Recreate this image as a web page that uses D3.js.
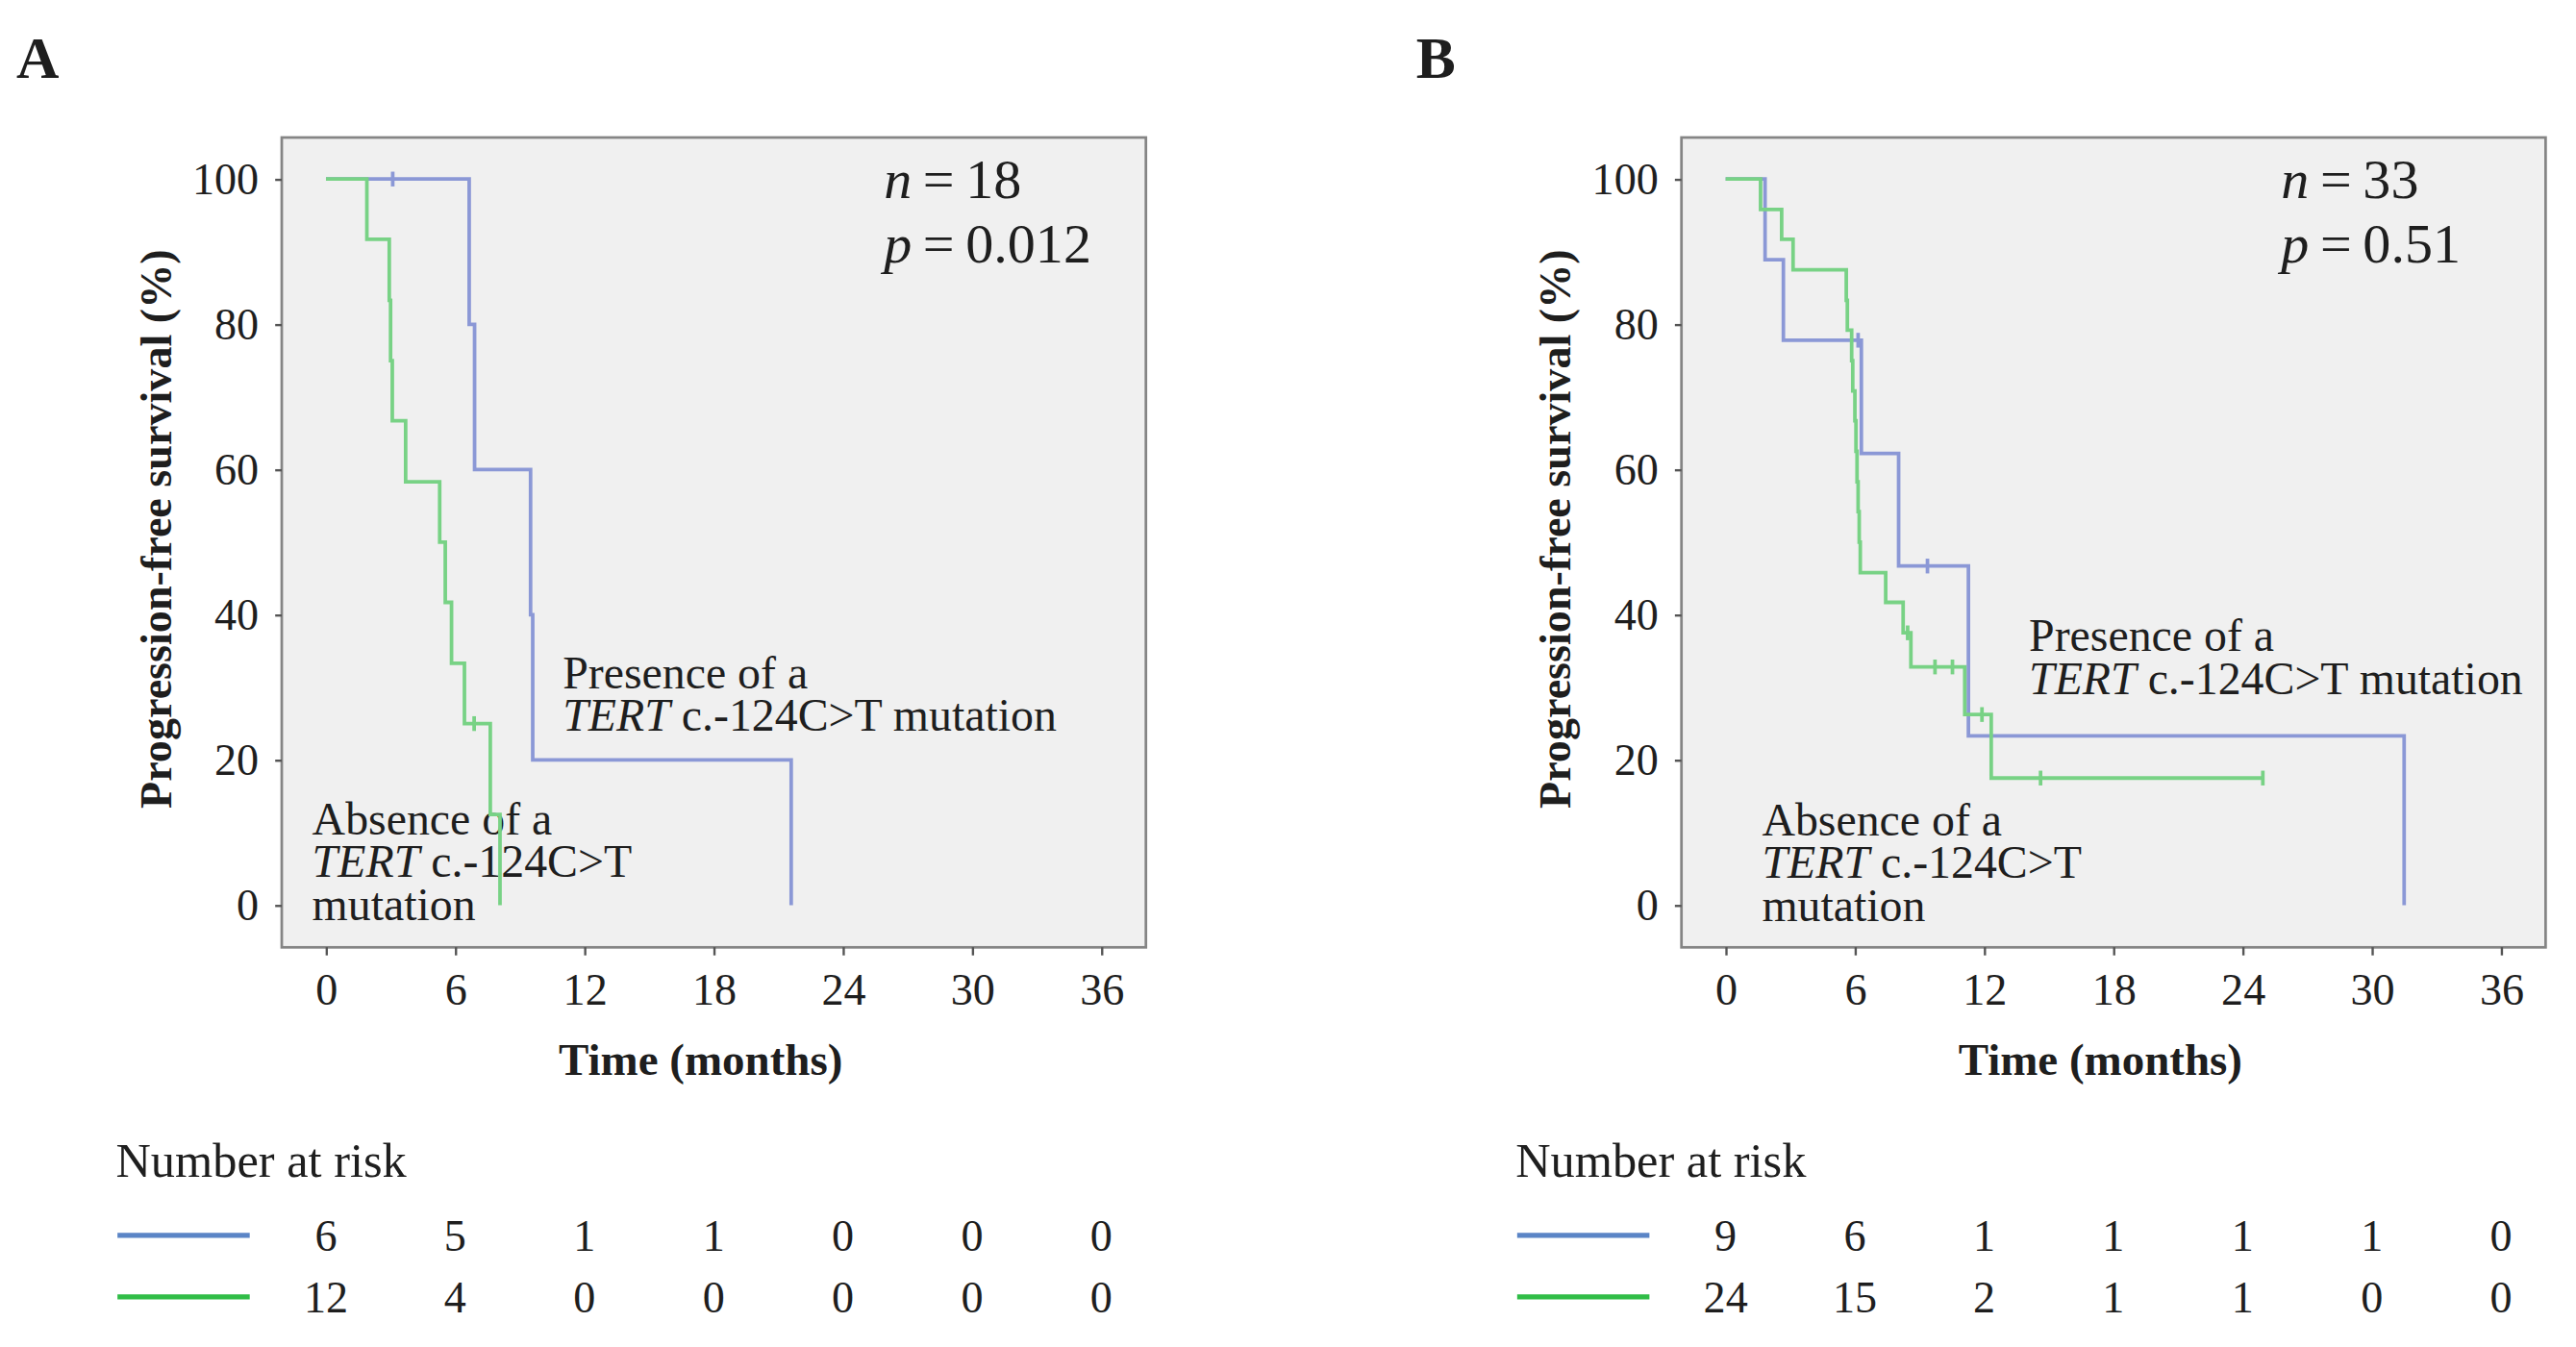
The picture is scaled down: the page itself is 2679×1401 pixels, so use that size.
<!DOCTYPE html>
<html>
<head>
  <meta charset="UTF-8">
  <style>
    body { margin: 0; background: #fff; }
    svg text { font-family: "Liberation Serif", "Times New Roman", serif; fill: #1e1e1e; }
    .frame { fill: #f0f0f0; stroke: #858585; stroke-width: 1.6px; }
    .axis path { display: none; }
    .axis line { stroke: #555; stroke-width: 1.4px; }
    .axis text { font-size: 27px; fill: #1e1e1e; }
  </style>
</head>
<body>
<svg id="chart"></svg>
<script src="https://d3js.org/d3.v7.min.js"></script>
<script>

// tick values shared by both panels
const monthTicks = [0, 6, 12, 18, 24, 30, 36];
const survTicks = [0, 20, 40, 60, 80, 100];

// panel A, n = 18  -- [month, survival %] at each drop
const aPresenceSteps = [[0, 100], [6.65, 80], [6.9, 60], [9.5, 40], [9.6, 20], [21.6, 0]];
const aPresenceCensored = [[3.1, 100]];
const aAbsenceSteps = [[0, 100], [1.9, 91.7], [2.94, 83.3], [3.0, 75], [3.08, 66.7], [3.7, 58.3],
  [5.28, 50], [5.54, 41.7], [5.83, 33.3], [6.43, 25], [7.63, 12.5], [8.08, 0]];
const aAbsenceCensored = [[6.88, 25]];
const aRiskPresence = [6, 5, 1, 1, 0, 0, 0];
const aRiskAbsence = [12, 4, 0, 0, 0, 0, 0];

// panel B, n = 33
const bPresenceSteps = [[0, 100], [1.83, 88.9], [2.68, 77.8], [6.3, 62.2], [8.03, 46.7], [11.27, 23.3], [31.5, 0]];
const bPresenceCensored = [[6.15, 77.8], [9.37, 46.7]];
const bAbsenceSteps = [[0, 100], [1.62, 95.8], [2.6, 91.7], [3.13, 87.5], [5.6, 83.3], [5.65, 79.2],
  [5.85, 75], [5.9, 70.8], [6.0, 66.7], [6.05, 62.5], [6.1, 58.3], [6.15, 54.2], [6.2, 50], [6.25, 45.8],
  [7.43, 41.7], [8.24, 37.5], [8.6, 32.8], [11.1, 26.25], [12.33, 17.5], [24.94, 17.5]];
const bAbsenceCensored = [[8.45, 37.5], [9.72, 32.8], [10.53, 32.8], [11.9, 26.25], [14.62, 17.5], [24.94, 17.5]];
const bRiskPresence = [9, 6, 1, 1, 1, 1, 0];
const bRiskAbsence = [24, 15, 2, 1, 1, 0, 0];

const blueLine = "#8b98d6", greenLine = "#78d285";
const blueKey = "#5b85c6", greenKey = "#30bd47";

// drawing units follow the figure at 1568 wide, scaled up to the window
let W = 1568, H = 820;
let svg = d3.select("#chart")
  .attr("width", 2679).attr("height", 1401)
  .attr("viewBox", "0 0 " + W + " " + H);

function panel(off, letter, nTxt, pTxt, statX, steps, censored, risks, presAt, absAt) {
  let g = svg.append("g");

  let x = d3.scaleLinear().domain([0, 36]).range([198.4 + off, 670.4 + off]);
  let y = d3.scaleLinear().domain([0, 100]).range([551, 109]);

  g.append("text").attr("x", 10 + off).attr("y", 47.5)
    .style("font-size", "36px").style("font-weight", "bold").text(letter);

  g.append("rect").attr("class", "frame")
    .attr("x", 171.5 + off).attr("y", 83.7)
    .attr("width", 526).attr("height", 493);

  g.append("g").attr("class", "axis")
    .attr("transform", "translate(" + (171.5 + off) + ",0)")
    .call(d3.axisLeft(y).tickValues(survTicks).tickSize(4).tickPadding(10));

  g.append("g").attr("class", "axis")
    .attr("transform", "translate(0,576.6)")
    .call(d3.axisBottom(x).tickValues(monthTicks).tickSize(5).tickPadding(11));

  g.append("text")
    .attr("transform", "translate(" + (104 + off) + ",322) rotate(-90)")
    .attr("text-anchor", "middle")
    .style("font-size", "27px").style("font-weight", "bold")
    .text("Progression-free survival (%)");

  g.append("text").attr("x", 426.5 + off).attr("y", 654.5)
    .attr("text-anchor", "middle")
    .style("font-size", "27.5px").style("font-weight", "bold")
    .text("Time (months)");

  // n and p
  let st = g.append("text").attr("x", statX).attr("y", 120.5).style("font-size", "34px");
  st.append("tspan").style("font-style", "italic").text("n");
  st.append("tspan").text("\u2009=\u2009" + nTxt);
  let pt = g.append("text").attr("x", statX).attr("y", 160).style("font-size", "34px");
  pt.append("tspan").style("font-style", "italic").text("p");
  pt.append("tspan").text("\u2009=\u2009" + pTxt);

  // group labels
  let lab = g.append("g").style("font-size", "28px");
  lab.append("text").attr("x", presAt[0]).attr("y", presAt[1]).text("Presence of a");
  let t2 = lab.append("text").attr("x", presAt[0]).attr("y", presAt[1] + 26);
  t2.append("tspan").style("font-style", "italic").text("TERT");
  t2.append("tspan").text(" c.-124C>T mutation");

  lab.append("text").attr("x", absAt[0]).attr("y", absAt[1]).text("Absence of a");
  let t3 = lab.append("text").attr("x", absAt[0]).attr("y", absAt[1] + 26);
  t3.append("tspan").style("font-style", "italic").text("TERT");
  t3.append("tspan").text(" c.-124C>T");
  lab.append("text").attr("x", absAt[0]).attr("y", absAt[1] + 52).text("mutation");

  // survival curves
  let line = d3.line().x(d => x(d[0])).y(d => y(d[1])).curve(d3.curveStepAfter);
  let colors = [blueLine, greenLine];
  steps.forEach((s, i) => {
    g.append("path").datum(s)
      .attr("d", line)
      .attr("fill", "none")
      .attr("stroke", colors[i])
      .attr("stroke-width", 2.2);
    g.selectAll(null).data(censored[i]).enter().append("line")
      .attr("x1", d => x(d[0])).attr("x2", d => x(d[0]))
      .attr("y1", d => y(d[1]) - 4.5).attr("y2", d => y(d[1]) + 4.5)
      .attr("stroke", colors[i]).attr("stroke-width", 2.2);
  });

  // number at risk
  g.append("text").attr("x", 70.5 + off).attr("y", 716.5)
    .style("font-size", "29.5px").text("Number at risk");
  let keys = [blueKey, greenKey];
  let rowY = [752, 789.5];
  risks.forEach((r, i) => {
    g.append("line")
      .attr("x1", 71.5 + off).attr("x2", 152 + off)
      .attr("y1", rowY[i]).attr("y2", rowY[i])
      .attr("stroke", keys[i]).attr("stroke-width", 3);
    g.selectAll(null).data(r).enter().append("text")
      .attr("x", (d, j) => x(monthTicks[j]))
      .attr("y", rowY[i] + 9.5)
      .attr("text-anchor", "middle")
      .style("font-size", "27px")
      .text(d => d);
  });
}

panel(0, "A", "18", "0.012", 538,
  [aPresenceSteps, aAbsenceSteps], [aPresenceCensored, aAbsenceCensored],
  [aRiskPresence, aRiskAbsence], [342.5, 419], [190, 508]);

panel(852, "B", "33", "0.51", 1388.5,
  [bPresenceSteps, bAbsenceSteps], [bPresenceCensored, bAbsenceCensored],
  [bRiskPresence, bRiskAbsence], [1235, 396.5], [1072.5, 508.5]);

</script>
</body>
</html>
